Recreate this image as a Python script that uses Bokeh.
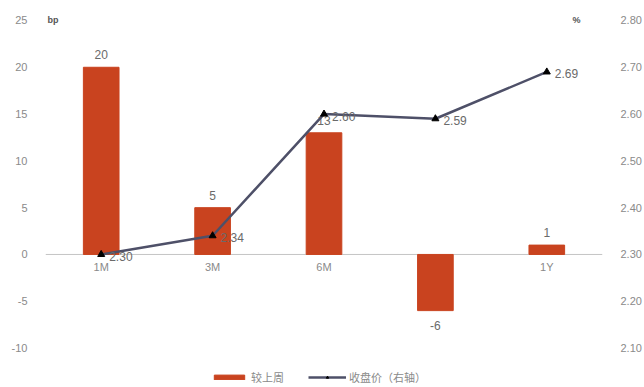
from bokeh.plotting import figure
from bokeh.models import (ColumnDataSource, Range1d, LinearAxis, Legend, LegendItem,
                          Span, Label, FixedTicker, NumeralTickFormatter, PrintfTickFormatter)
from bokeh.core.properties import value
from bokeh.embed import file_html
from bokeh.resources import INLINE

tenors = ["1M", "3M", "6M", "9M", "1Y"]
change_bp = [20, 5, 13, -6, 1]
close_pct = [2.30, 2.34, 2.60, 2.59, 2.69]
left_ticks = [-10, -5, 0, 5, 10, 15, 20, 25]
right_ticks = [2.10, 2.20, 2.30, 2.40, 2.50, 2.60, 2.70, 2.80]
bar_name = "较上周"
line_name = "收盘价（右轴）"

BAR = "#C9431F"
LINE = "#4E5068"
GRAY = "#8a8a8a"
FONT = "Liberation Sans"
CJK = "Noto Sans CJK SC"

# left range padded so that the frame also holds the legend; right axis aligned: 0bp <-> 2.30%
L_LO, L_HI = -14.0, 26.6
R_BASE, R_PER_BP = 2.30, 0.02

idx = list(range(len(tenors)))
src = ColumnDataSource(dict(
    x=idx, tenor=tenors, chg=change_bp, close=close_pct,
    close_lbl=["%.2f" % v for v in close_pct],
    zero=[0] * len(tenors),
))
pos = ColumnDataSource(dict(x=[i for i, v in zip(idx, change_bp) if v >= 0],
                            y=[v for v in change_bp if v >= 0],
                            t=[str(v) for v in change_bp if v >= 0]))
neg = ColumnDataSource(dict(x=[i for i, v in zip(idx, change_bp) if v < 0],
                            y=[v for v in change_bp if v < 0],
                            t=[str(v) for v in change_bp if v < 0]))

p = figure(width=644, height=387, output_backend="svg", toolbar_location=None,
           x_range=Range1d(-0.5, len(tenors) - 0.5),
           y_range=Range1d(L_LO, L_HI),
           x_axis_location=None,
           min_border_left=45, min_border_right=42, min_border_top=5, min_border_bottom=2)
p.outline_line_color = None
p.grid.visible = False
p.background_fill_color = "white"
p.border_fill_color = "white"

yl = p.yaxis[0]
yl.ticker = FixedTicker(ticks=left_ticks)
yl.formatter = PrintfTickFormatter(format="%d")
yl.axis_line_color = None
yl.major_tick_line_color = None
yl.minor_tick_line_color = None
yl.major_label_text_color = GRAY
yl.major_label_text_font = FONT
yl.major_label_text_font_size = "11px"
yl.major_label_standoff = 12

p.extra_y_ranges = {"pct": Range1d(R_BASE + L_LO * R_PER_BP, R_BASE + L_HI * R_PER_BP)}
yr = LinearAxis(y_range_name="pct", ticker=FixedTicker(ticks=right_ticks),
                formatter=NumeralTickFormatter(format="0.00"))
yr.axis_line_color = None
yr.major_tick_line_color = None
yr.minor_tick_line_color = None
yr.major_label_text_color = GRAY
yr.major_label_text_font = FONT
yr.major_label_text_font_size = "11px"
yr.major_label_standoff = 12
p.add_layout(yr, "right")

zero = Span(location=0, dimension="width", line_color="#c4c4c4", line_width=1, level="underlay")
p.add_layout(zero)

p.text(x="x", y="zero", text="tenor", source=src, text_align="center", text_baseline="top",
       y_offset=7, text_color=GRAY, text_font=value(FONT), text_font_size="11px", level="underlay")

bars = p.vbar(x="x", top="chg", bottom=0, width=0.32, source=src, fill_color=BAR,
              line_color=BAR)
p.text(x="x", y="y", text="t", source=pos, text_align="center", text_baseline="bottom",
       y_offset=-8, text_color="#6a6a6a", text_font=value(FONT), text_font_size="12px")
p.text(x="x", y="y", text="t", source=neg, text_align="center", text_baseline="top",
       y_offset=10, text_color="#6a6a6a", text_font=value(FONT), text_font_size="12px")

ln = p.line(x="x", y="close", source=src, y_range_name="pct", line_color=LINE, line_width=2.5)
mk = p.scatter(x="x", y="close", source=src, y_range_name="pct", marker="triangle",
               size=7, fill_color="black", line_color="black")
p.text(x="x", y="close", text="close_lbl", source=src, y_range_name="pct",
       text_align="left", text_baseline="middle", x_offset=8, y_offset=2,
       text_color="#6a6a6a", text_font=value(FONT), text_font_size="12px")

p.add_layout(Label(x=-0.5, y=left_ticks[-1], text="bp", x_offset=2, text_baseline="middle",
                   text_color="#555555", text_font=FONT, text_font_size="9px",
                   text_font_style="bold"))
p.add_layout(Label(x=len(tenors) - 0.5, y=left_ticks[-1], text="%", x_offset=-30,
                   text_baseline="middle", text_color="#555555", text_font=FONT,
                   text_font_size="9px", text_font_style="bold"))

legend = Legend(items=[LegendItem(label=bar_name, renderers=[bars]),
                       LegendItem(label=line_name, renderers=[ln, mk])],
                orientation="horizontal", location=(165, 0),
                glyph_width=38, glyph_height=6, label_height=12, label_standoff=3,
                spacing=24, padding=2, margin=0, border_line_color=None,
                background_fill_alpha=0,
                label_text_font=CJK, label_text_font_size="11px", label_text_color=GRAY)
p.add_layout(legend)

open("out.html", "w").write(file_html(p, INLINE))
